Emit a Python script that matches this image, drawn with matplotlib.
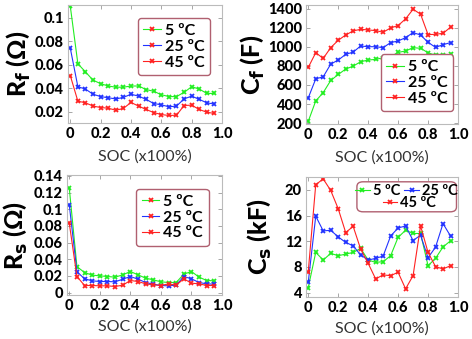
import numpy as np
import matplotlib
matplotlib.use('Agg')
import matplotlib.pyplot as plt
from matplotlib.lines import Line2D
from matplotlib.patches import FancyBboxPatch

plt.rcParams['font.family'] = ['Lato', 'DejaVu Sans']

#SOC axis, same for all four panels
soc = [0, 0.05, 0.1, 0.15, 0.2, 0.25, 0.3, 0.35, 0.4, 0.45,
       0.5, 0.55, 0.6, 0.65, 0.7, 0.75, 0.8, 0.85, 0.9, 0.95]
labels = ['5 \u00baC', '25 \u00baC', '45 \u00baC']

#Rf (Ohm)
rf_5 = [0.110, 0.061, 0.054, 0.047, 0.044, 0.042, 0.041, 0.041, 0.042, 0.042,
        0.039, 0.0375, 0.0346, 0.033, 0.033, 0.0366, 0.0414, 0.0394, 0.0357, 0.0357]
rf_25 = [0.0743, 0.0414, 0.0394, 0.035, 0.033, 0.032, 0.031, 0.0323, 0.035, 0.0334,
         0.0306, 0.0271, 0.026, 0.0243, 0.0249, 0.031, 0.0334, 0.0306, 0.0277, 0.0266]
rf_45 = [0.0509, 0.0291, 0.0277, 0.0249, 0.0237, 0.0231, 0.0214, 0.0229, 0.028, 0.0249,
         0.022, 0.0194, 0.0177, 0.0169, 0.0171, 0.0254, 0.0257, 0.022, 0.0197, 0.0186]

#Cf (F)
cf_5 = [218, 432, 520, 647, 710, 767, 798, 844, 862, 869,
        886, 897, 942, 957, 992, 985, 939, 911, 911, 921]
cf_25 = [464, 664, 686, 819, 862, 921, 946, 1009, 1002, 1002,
         992, 1045, 1062, 1097, 1150, 1125, 1048, 995, 1023, 1045]
cf_45 = [784, 939, 879, 992, 1069, 1125, 1168, 1185, 1178, 1171,
         1154, 1199, 1224, 1294, 1395, 1344, 1129, 1132, 1143, 1206]

#Rs (Ohm)
rs_5 = [0.125, 0.031, 0.024, 0.0208, 0.020, 0.0192, 0.0184, 0.0212, 0.0252, 0.0212,
        0.0172, 0.0152, 0.0128, 0.012, 0.012, 0.022, 0.0252, 0.0184, 0.0144, 0.014]
rs_25 = [0.105, 0.025, 0.0164, 0.014, 0.0132, 0.0132, 0.0128, 0.016, 0.0192, 0.016,
         0.012, 0.010, 0.0084, 0.008, 0.0088, 0.0192, 0.0164, 0.012, 0.0104, 0.010]
rs_45 = [0.083, 0.0192, 0.0084, 0.0084, 0.008, 0.008, 0.0072, 0.0088, 0.0144, 0.0132,
         0.0104, 0.0092, 0.0084, 0.0104, 0.0088, 0.0164, 0.0112, 0.0104, 0.0084, 0.0084]

#Cs (kF)
cs_5 = [4.78, 10.25, 9.06, 10.1, 9.73, 9.99, 10.25, 10.87, 9.06, 8.7,
        8.8, 9.73, 12.6, 13.7, 13.2, 13.2, 8.18, 9.32, 11.1, 12.05]
cs_25 = [5.6, 15.9, 13.6, 13.7, 12.67, 11.8, 11.28, 9.84, 9.06, 9.32,
         9.68, 12.8, 14.06, 14.37, 12.1, 12.93, 9.42, 11.07, 14.74, 12.8]
cs_45 = [7.25, 20.8, 21.7, 19.9, 17.06, 13.35, 14.3, 10.76, 8.55, 6.12,
         6.74, 6.63, 7.15, 4.57, 6.63, 14.37, 10.25, 8.03, 7.67, 8.18]

colors = ['#22ee22', '#2233ff', '#ff2222']
edgecol = '#b06070'

W, H = 472, 339
fig = plt.figure(figsize=(W/100., H/100.), dpi=100)

def pix_axes(l, t, r, b):
	return fig.add_axes([l/W, 1-b/H, (r-l)/W, (b-t)/H])

def setup(ax, ylim, yticks, yticklabels, ylabel, labx, xlaby):
	ax.set_xlim(-0.015, 1.0)
	ax.set_ylim(ylim)
	ax.set_xticks([0, 0.2, 0.4, 0.6, 0.8, 1.0])
	ax.set_xticklabels(['0', '0.2', '0.4', '0.6', '0.8', '1.0'])
	ax.set_yticks(yticks)
	ax.set_yticklabels(yticklabels)
	ax.tick_params(direction='in', top=True, right=True, length=3, width=0.6,
	               color='#999999', labelsize=10.5, pad=3)
	for lab in ax.get_xticklabels() + ax.get_yticklabels():
		lab.set_fontweight('black')
	for sp in ax.spines.values():
		sp.set_color('#bbbbbb')
		sp.set_linewidth(0.8)
	ax.set_ylabel(ylabel, fontsize=18, fontweight='black')
	ax.yaxis.set_label_coords(labx, 0.5)
	ax.set_xlabel('SOC (x100%)', fontsize=11.5, color='#333333')
	ax.xaxis.set_label_coords(0.5, xlaby)

def draw(ax, series):
	for ys, c, lab in zip(series, colors, labels):
		ax.plot(soc, ys, '-', color=c, lw=0.8, marker='x', ms=3.5, mew=1.3, label=lab)

def leg_handles(markercols):
	return [Line2D([], [], color=c, lw=0.8, marker='x', ms=3.5, mew=1.3, markeredgecolor=mc)
	        for c, mc in zip(colors, markercols)]

legprop = {'weight': 'bold', 'size': 11.5}

def add_legend(ax, handles, labs, **kw):
	leg = ax.legend(handles, labs, prop=legprop,
	                handlelength=1.1, handletextpad=0.25, labelspacing=0.1,
	                borderpad=0.35, fancybox=True, framealpha=1, **kw)
	leg.get_frame().set_edgecolor(edgecol)
	leg.get_frame().set_linewidth(1.0)
	return leg

#Rf
ax1 = pix_axes(68, 5, 222, 123)
draw(ax1, [rf_5, rf_25, rf_45])
setup(ax1, (0.0105, 0.111), [0.02, 0.04, 0.06, 0.08, 0.1],
      ['0.02', '0.04', '0.06', '0.08', '0.1'], 'R$_\\mathbf{f}$ (\u03a9)', -0.235, -0.22)
add_legend(ax1, leg_handles(['#ff2222']*3), labels, loc='upper right',
           bbox_to_anchor=(0.975, 0.955))

#Cf
ax2 = pix_axes(306, 5, 458, 124)
draw(ax2, [cf_5, cf_25, cf_45])
setup(ax2, (190, 1440), [200, 400, 600, 800, 1000, 1200, 1400],
      ['200', '400', '600', '800', '1000', '1200', '1400'], 'C$_\\mathbf{f}$ (F)', -0.26, -0.22)
add_legend(ax2, leg_handles(['#ff2222']*3), labels, loc='lower left',
           bbox_to_anchor=(0.44, 0.04))

#Rs
ax3 = pix_axes(67, 175, 222, 295)
draw(ax3, [rs_5, rs_25, rs_45])
setup(ax3, (-0.003, 0.141), [0, 0.02, 0.04, 0.06, 0.08, 0.1, 0.12, 0.14],
      ['0', '0.02', '0.04', '0.06', '0.08', '0.1', '0.12', '0.14'],
      'R$_\\mathbf{s}$ (\u03a9)', -0.245, -0.2)
add_legend(ax3, leg_handles(['#ff2222']*3), labels, loc='upper right',
           bbox_to_anchor=(0.965, 0.95))

#Cs
ax4 = pix_axes(306, 177, 458, 297)
draw(ax4, [cs_5, cs_25, cs_45])
setup(ax4, (3.3, 22.0), [4, 8, 12, 16, 20], ['4', '8', '12', '16', '20'],
      'C$_\\mathbf{s}$ (kF)', -0.215, -0.2)
h = leg_handles(colors)
box = FancyBboxPatch((0.335, 0.71), 0.655, 0.25, boxstyle='round,pad=0,rounding_size=0.04',
                     transform=ax4.transAxes, facecolor='white', edgecolor=edgecol,
                     lw=1.0, zorder=5)
ax4.add_patch(box)
l1 = ax4.legend(h[:2], labels[:2], loc='center', bbox_to_anchor=(0.66, 0.885), ncol=2,
                frameon=False, prop={'weight': 'bold', 'size': 10.5}, handlelength=1.0,
                handletextpad=0.2, columnspacing=0.3, borderpad=0.0, borderaxespad=0)
l1.set_zorder(6)
ax4.add_artist(l1)
l2 = ax4.legend(h[2:], labels[2:], loc='center', bbox_to_anchor=(0.68, 0.78),
                frameon=False, prop={'weight': 'bold', 'size': 10.5}, handlelength=1.0,
                handletextpad=0.2, borderpad=0.0, borderaxespad=0)
l2.set_zorder(6)

fig.savefig('out.png', dpi=100)
